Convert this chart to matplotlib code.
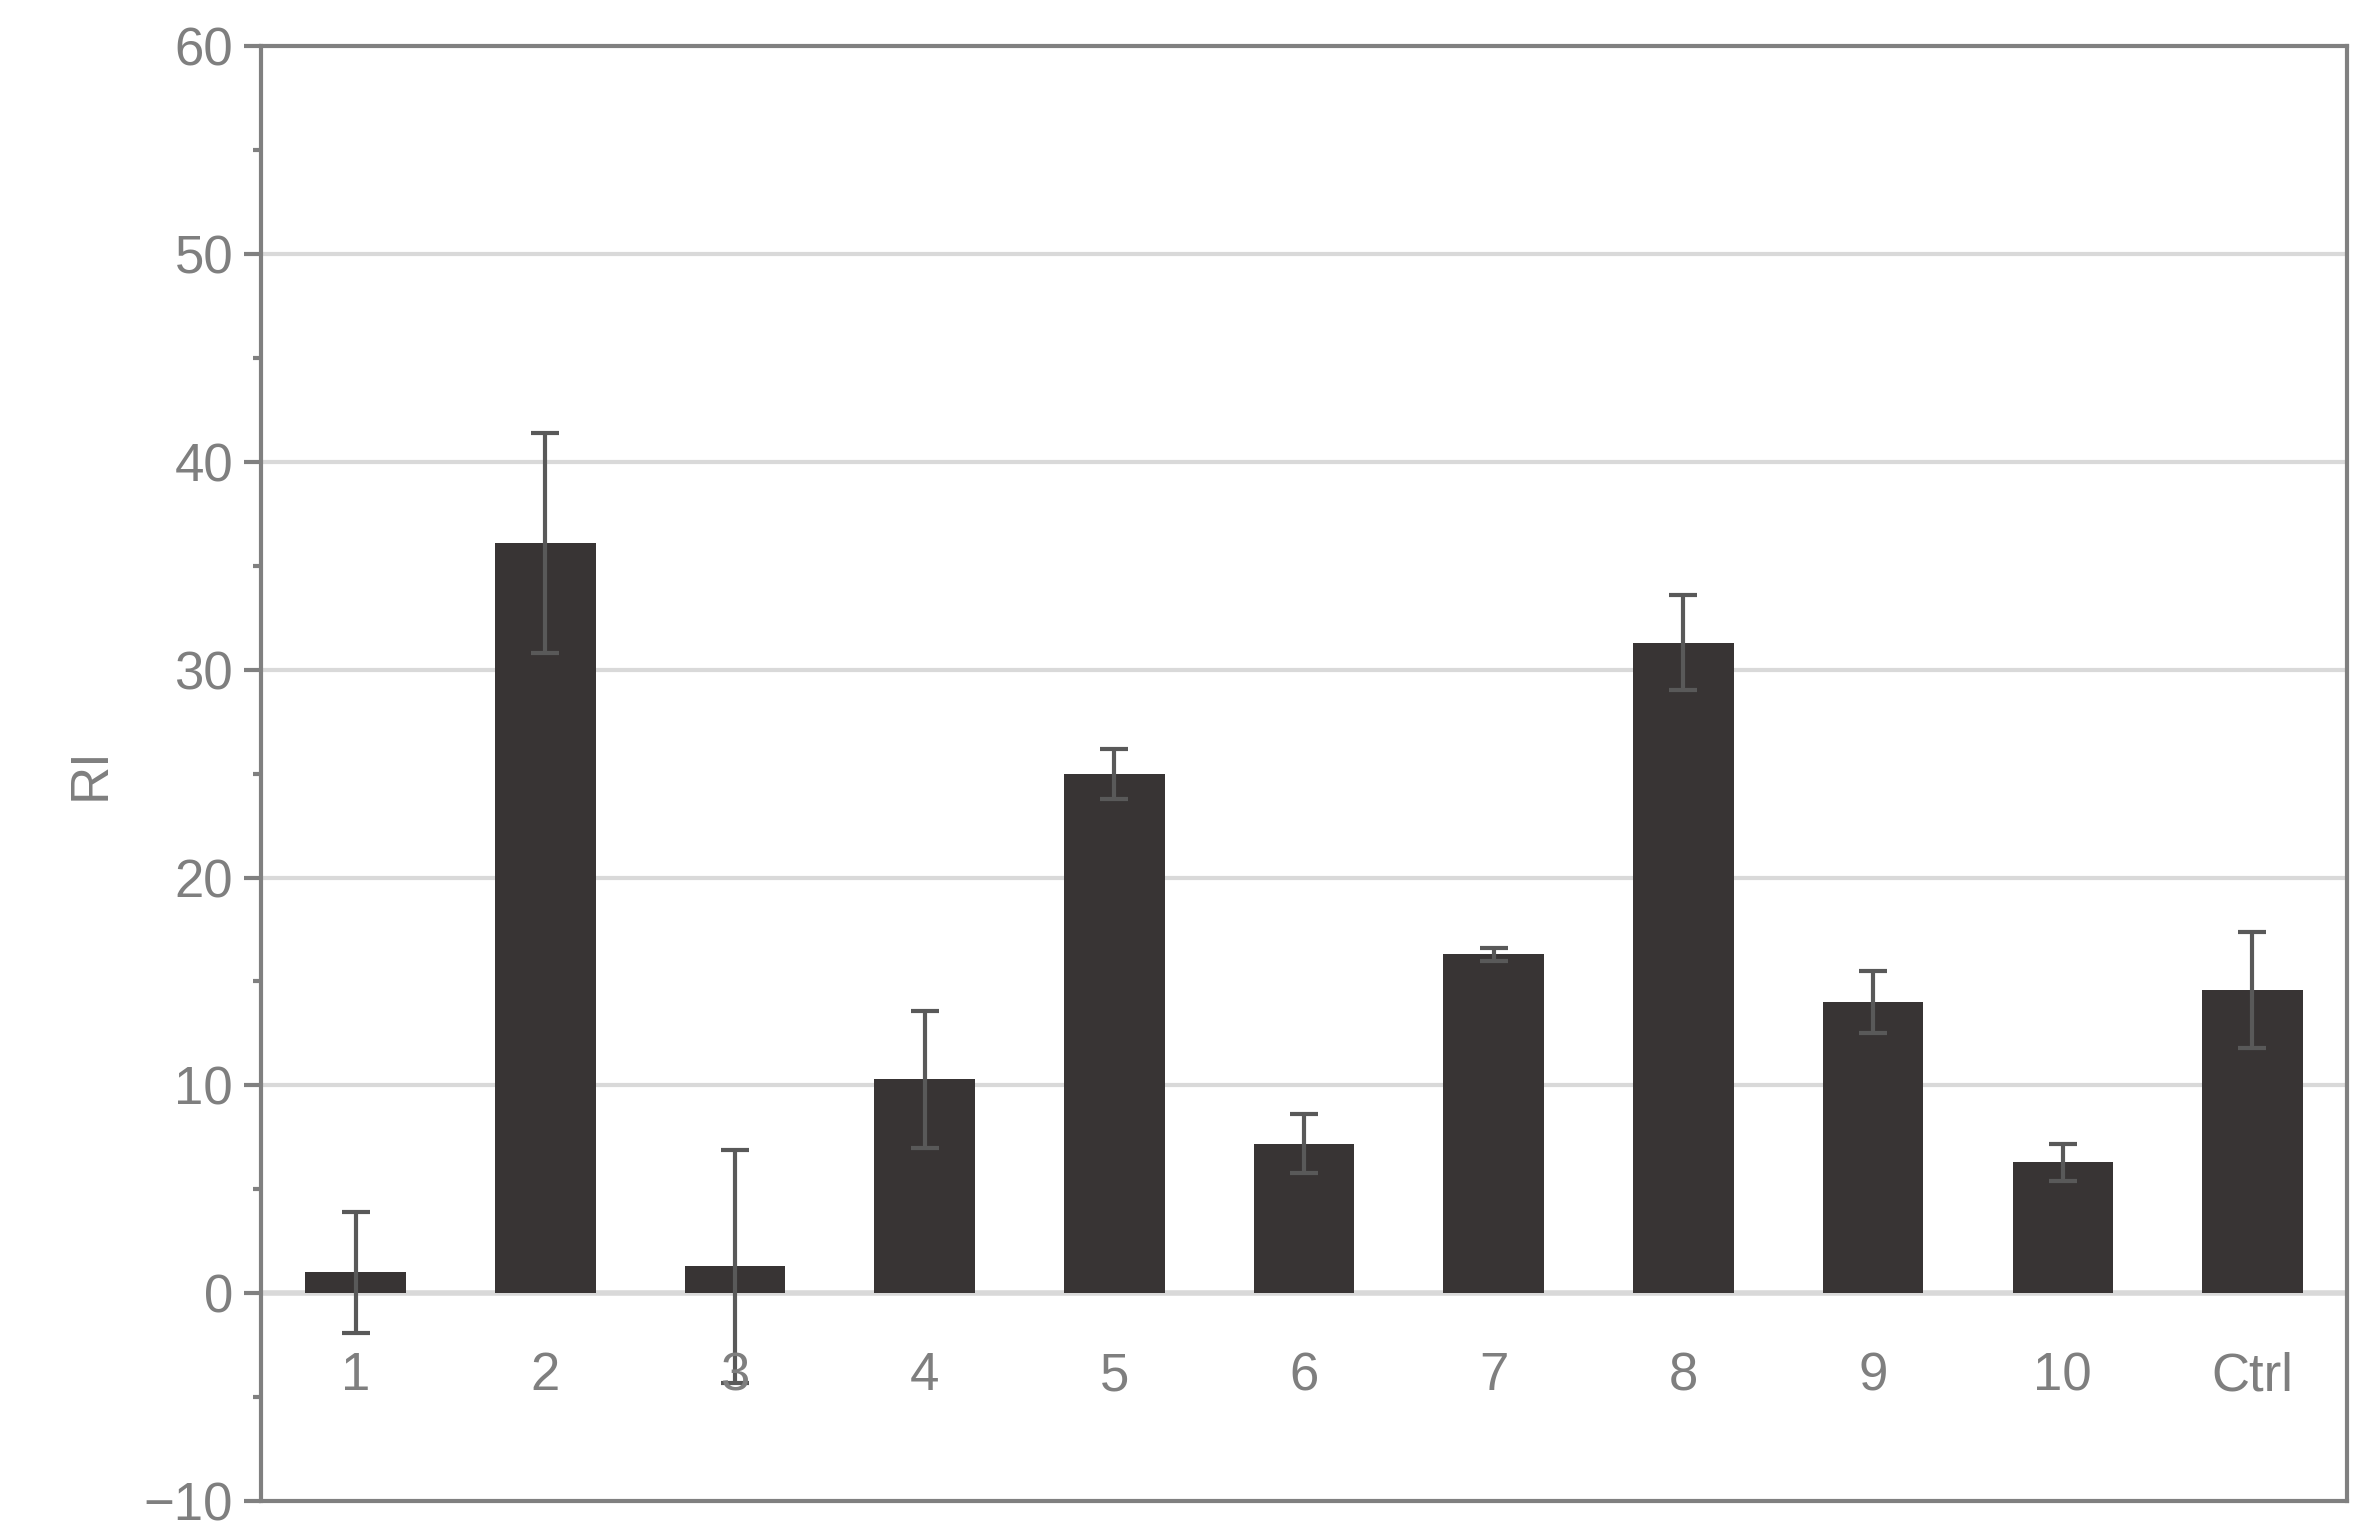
import matplotlib.pyplot as plt
from matplotlib.ticker import MultipleLocator

plt.rcParams['font.family'] = ['Liberation Sans', 'DejaVu Sans']

categories = ['1', '2', '3', '4', '5', '6', '7', '8', '9', '10', 'Ctrl']
values = [1.0, 36.1, 1.3, 10.3, 25.0, 7.2, 16.3, 31.3, 14.0, 6.3, 14.6]
errors = [2.9, 5.3, 5.6, 3.3, 1.2, 1.4, 0.3, 2.3, 1.5, 0.9, 2.8]

fig = plt.figure(figsize=(23.71, 15.38), dpi=100)
ax = fig.add_axes([0.110, 0.024, 0.880, 0.946])

x = list(range(len(categories)))
for y in range(10, 60, 10):
    ax.axhline(y, color='#d9d9d9', lw=3, zorder=0)
ax.bar(x, values, width=0.53, color='#383434', zorder=2)
ax.errorbar(x, values, yerr=errors, fmt='none', ecolor='#595959',
            elinewidth=3, capsize=10, capthick=3, zorder=3)
ax.axhline(0, color='#d9d9d9', lw=4, zorder=1)

ax.set_xlim(-0.5, len(categories) - 0.5)
ax.set_ylim(-10, 60)
ax.set_xticks([])
ax.yaxis.set_major_locator(MultipleLocator(10))
ax.yaxis.set_minor_locator(MultipleLocator(5))
ax.tick_params(axis='y', which='major', length=12, width=3, color='#808080',
               labelsize=38, labelcolor='#7f7f7f', pad=8)
ax.tick_params(axis='y', which='minor', length=6, width=3, color='#808080')
for s in ax.spines.values():
    s.set_color('#808080')
    s.set_linewidth(3)

for xi, c in zip(x, categories):
    ax.text(xi, -4, c, ha='center', va='center', fontsize=38, color='#7f7f7f', zorder=4)

ax.set_ylabel('RI', fontsize=38, color='#7f7f7f', labelpad=20)

fig.savefig('out.png')
